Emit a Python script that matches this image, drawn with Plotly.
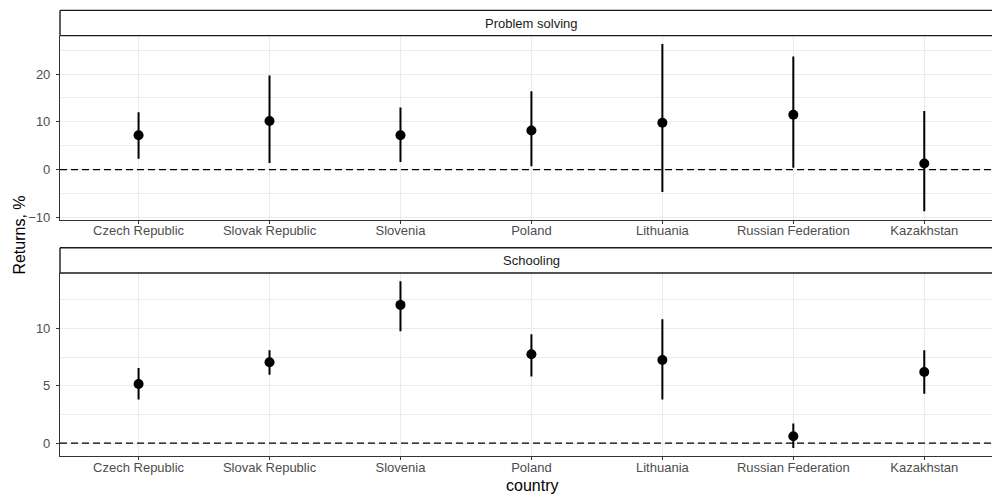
import plotly.graph_objects as go

# Country order along the x axis
countries = ["Czech Republic", "Slovak Republic", "Slovenia", "Poland",
             "Lithuania", "Russian Federation", "Kazakhstan"]

# Problem solving: point estimates and 95% interval bounds (returns, %)
ps_est = [7.2, 10.2, 7.2, 8.2, 9.8, 11.5, 1.3]
ps_low = [2.3, 1.4, 1.6, 0.7, -4.7, 0.4, -8.7]
ps_high = [12.0, 19.7, 13.0, 16.4, 26.3, 23.7, 12.3]

# Schooling: point estimates and 95% interval bounds (returns, %)
sc_est = [5.15, 7.05, 12.05, 7.75, 7.25, 0.6, 6.2]
sc_low = [3.8, 5.95, 9.75, 5.8, 3.8, -0.43, 4.3]
sc_high = [6.55, 8.1, 14.11, 9.5, 10.8, 1.7, 8.1]

panel_titles = ["Problem solving", "Schooling"]
y_label = "Returns, %"
x_label = "country"

W, H = 992, 499
FONT = "Liberation Sans, Arial, sans-serif"
GRID = "#EBEBEB"
AXIS = "#333333"
TICKTXT = "#4D4D4D"

# Panel geometry in pixels (top, bottom of plot area)
left_px = 60
panels = [
    dict(est=ps_est, low=ps_low, high=ps_high, top=36.0, bottom=221.8,
         dtick=10, minor=5),
    dict(est=sc_est, low=sc_low, high=sc_high, top=275.7, bottom=461.0,
         dtick=5, minor=2.5),
]
strip_h = 25.5


def py(y):
    """pixel row -> paper fraction"""
    return 1 - y / H


def px(x):
    return x / W


fig = go.Figure()

shapes = []
annotations = []
strip_line = dict(color="#1A1A1A", width=1.4)

for i, p in enumerate(panels):
    ax = "" if i == 0 else str(i + 1)
    xa, ya = "x" + ax, "y" + ax
    err_plus = [h - e for h, e in zip(p["high"], p["est"])]
    err_minus = [e - l for e, l in zip(p["est"], p["low"])]
    fig.add_trace(go.Scatter(
        x=countries, y=p["est"], mode="markers",
        marker=dict(color="black", size=10),
        error_y=dict(type="data", symmetric=False, array=err_plus,
                     arrayminus=err_minus, color="black", thickness=2,
                     width=0),
        xaxis=xa, yaxis=ya, showlegend=False, hoverinfo="skip",
    ))

    lo = min(p["low"])
    hi = max(p["high"])
    pad = 0.05 * (hi - lo)

    axis_common = dict(
        showline=True, linecolor=AXIS, linewidth=1.1,
        ticks="outside", ticklen=3, tickcolor=AXIS, tickwidth=1,
        tickfont=dict(family=FONT, size=13, color=TICKTXT),
        showgrid=True, gridcolor=GRID, gridwidth=1.1, zeroline=False,
    )
    fig.layout["xaxis" + ax] = dict(
        axis_common, domain=[px(left_px), 1], anchor=ya,
        type="category", categoryorder="array", categoryarray=countries,
        range=[-0.6, (W - 138.7) / 130.93], ticklabelstandoff=-4,
    )
    fig.layout["yaxis" + ax] = dict(
        axis_common, domain=[py(p["bottom"]), py(p["top"])], anchor=xa,
        range=[lo - pad, hi + pad], dtick=p["dtick"], tick0=0,
        ticklabelstandoff=3,
        minor=dict(dtick=p["minor"], tick0=0, showgrid=True,
                   gridcolor=GRID, gridwidth=0.6, ticks=""),
    )

    # dashed reference line at zero
    shapes.append(dict(type="line", xref="paper", yref=ya,
                       x0=px(left_px), x1=1, y0=0, y1=0, layer="above",
                       line=dict(color="black", width=1.2, dash="7px,4px")))

    # facet strip: top, bottom and left edges (panel runs past the right edge)
    s_top, s_bot = p["top"] - strip_h, p["top"]
    for yy in (s_top, s_bot):
        shapes.append(dict(type="line", xref="paper", yref="paper",
                           x0=px(left_px), x1=1, y0=py(yy), y1=py(yy),
                           line=strip_line, layer="above"))
    shapes.append(dict(type="line", xref="paper", yref="paper",
                       x0=px(left_px), x1=px(left_px),
                       y0=py(s_bot), y1=py(s_top),
                       line=strip_line, layer="above"))
    annotations.append(dict(text=panel_titles[i], xref="paper", yref="paper",
                            x=px(531.5), y=py((s_top + s_bot) / 2),
                            showarrow=False, xanchor="center",
                            yanchor="middle",
                            font=dict(family=FONT, size=13, color="#1A1A1A")))

annotations.append(dict(text=y_label, xref="paper", yref="paper",
                        x=px(20), y=py(238), textangle=-90, showarrow=False,
                        xanchor="center", yanchor="middle",
                        font=dict(family=FONT, size=16, color="black")))
annotations.append(dict(text=x_label, xref="paper", yref="paper",
                        x=px(531.5), y=py(490), showarrow=False,
                        xanchor="center", yanchor="middle",
                        font=dict(family=FONT, size=16, color="black")))

fig.update_layout(
    width=W, height=H, margin=dict(l=0, r=0, t=0, b=0),
    paper_bgcolor="white", plot_bgcolor="white",
    shapes=shapes, annotations=annotations,
)

fig.write_html("out.html")
